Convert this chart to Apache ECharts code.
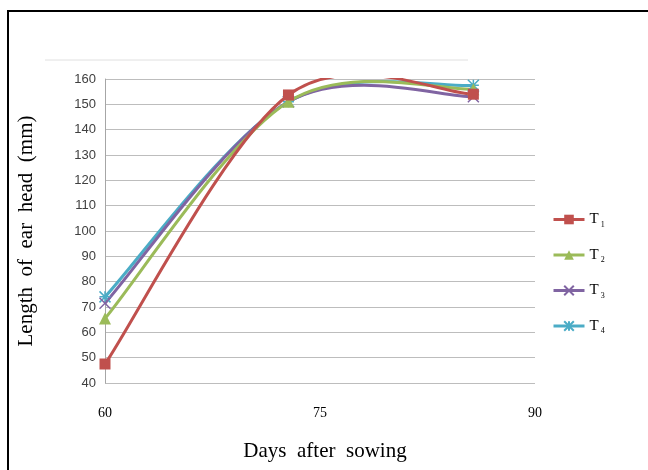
<!DOCTYPE html>
<html><head><meta charset="utf-8">
<script src="https://cdn.jsdelivr.net/npm/echarts@6/dist/echarts.min.js"></script>
<style>html,body{margin:0;padding:0;background:#fff}#c{width:648px;height:470px}</style>
</head><body><div id="c"></div>
<script>
const days = [60, 72.8, 85.7];
const xTicks = [60, 75, 90];
const seriesNames = ['T1', 'T2', 'T3', 'T4'];
const T1 = [47.5, 153.7, 154];
const T2 = [65.5, 151, 156];
const T3 = [71.5, 151, 153];
const T4 = [74, 151, 157.5];
const values = [T1, T2, T3, T4];
const colors = ['#C0504D', '#9BBB59', '#8064A2', '#4BACC6'];
const symbols = ['rect', 'triangle', 'path://M0,0L10,10M10,0L0,10', 'path://M0,0L10,10M10,0L0,10M5,0L5,10M0,5L10,5'];

// Excel-style (Catmull-Rom) smoothed curve, computed in pixel space via the axes
function smoothRender(arr, color) {
  return function (params, api) {
    if (params.dataIndex !== 0) return null;
    const p = arr.map((v, j) => api.coord([days[j], v]));
    let d = 'M' + p[0][0] + ',' + p[0][1];
    for (let i = 0; i < p.length - 1; i++) {
      const a = p[i - 1] || p[i], b = p[i], c = p[i + 1], e = p[i + 2] || p[i + 1];
      const c1 = [b[0] + (c[0] - a[0]) / 6, b[1] + (c[1] - a[1]) / 6];
      const c2 = [c[0] - (e[0] - b[0]) / 6, c[1] - (e[1] - b[1]) / 6];
      d += 'C' + c1[0] + ',' + c1[1] + ' ' + c2[0] + ',' + c2[1] + ' ' + c[0] + ',' + c[1];
    }
    const cs = params.coordSys;
    return {
      type: 'path', shape: {pathData: d},
      style: {fill: 'none', stroke: color, lineWidth: 3},
      clipPath: {type: 'rect', shape: {x: cs.x - 5, y: cs.y - 1, width: cs.width + 10, height: cs.height + 10}}
    };
  };
}

const lineSeries = values.map((arr, i) => ({
  name: seriesNames[i], type: 'line',
  data: arr.map((v, j) => [days[j], v]),
  symbol: symbols[i], symbolSize: i === 1 ? 12 : 11,
  lineStyle: {color: colors[i], width: 3, opacity: 0},
  itemStyle: {color: colors[i], borderColor: colors[i], borderWidth: i >= 2 ? 1.5 : 0},
  z: 20 - i
}));
const curveSeries = values.map((arr, i) => ({
  name: seriesNames[i] + '_curve', type: 'custom',
  data: arr.map((v, j) => [days[j], v]),
  encode: {x: 0, y: 1},
  renderItem: smoothRender(arr, colors[i]),
  silent: true,
  z: 10 - i
}));

const chart = echarts.init(document.getElementById('c'));
chart.setOption({
  animation: false,
  backgroundColor: '#fff',
  grid: {left: 105, right: 113, top: 79, bottom: 87},
  graphic: [
    {type: 'rect', shape: {x: 8, y: 11, width: 700, height: 500}, style: {fill: 'none', stroke: '#000', lineWidth: 2}},
    {type: 'line', shape: {x1: 45, y1: 60, x2: 468, y2: 60}, style: {stroke: '#e0e0e0', lineWidth: 1}}
  ],
  legend: {
    orient: 'vertical', left: 547, top: 207, itemGap: 19, itemWidth: 31, itemHeight: 12,
    data: seriesNames.map((n, i) => ({
      name: n,
      lineStyle: {color: colors[i], width: 3, opacity: 1},
      itemStyle: {color: colors[i], borderColor: colors[i]}
    })),
    formatter: n => '{a|T}{b|' + n.slice(1) + '}',
    textStyle: {rich: {
      a: {fontFamily: 'Liberation Serif', fontSize: 15, color: '#000'},
      b: {fontFamily: 'Liberation Serif', fontSize: 8, color: '#000', padding: [10, 0, 0, 2]}
    }}
  },
  xAxis: {
    type: 'value', min: 60, max: 90, interval: 15,
    name: 'Days  after  sowing', nameLocation: 'middle', nameGap: 58,
    nameTextStyle: {fontFamily: 'Liberation Serif', fontSize: 21, color: '#000', padding: [0, 0, 0, 10]},
    axisLine: {show: false}, axisTick: {show: false}, splitLine: {show: false},
    axisLabel: {margin: 23, fontFamily: 'Liberation Serif', fontSize: 14, color: '#000',
      formatter: v => xTicks.includes(v) ? String(v) : ''}
  },
  yAxis: {
    type: 'value', min: 40, max: 160, interval: 10,
    name: 'Length  of  ear  head  (mm)', nameLocation: 'middle', nameGap: 68,
    nameTextStyle: {fontFamily: 'Liberation Serif', fontSize: 21, color: '#000'},
    axisLine: {show: true, lineStyle: {color: '#A6A6A6', width: 1}},
    axisTick: {show: false},
    splitLine: {lineStyle: {color: '#BDBDBD', width: 1}},
    axisLabel: {margin: 9, fontFamily: 'Liberation Sans', fontSize: 13, color: '#404040'}
  },
  series: curveSeries.concat(lineSeries)
});
</script></body></html>
